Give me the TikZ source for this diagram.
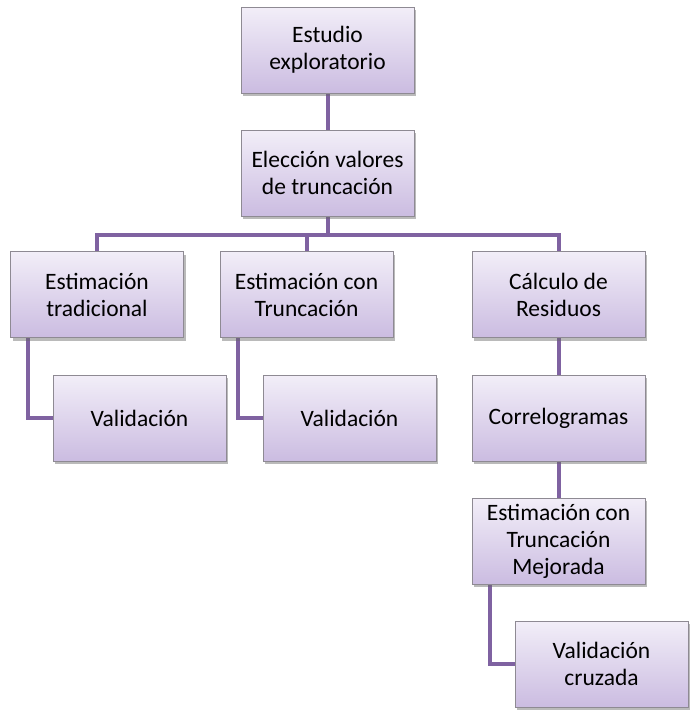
\documentclass[tikz,border=0pt]{standalone}
\usepackage{fontspec}
\setmainfont{Carlito}
\usetikzlibrary{shadows,backgrounds}
\definecolor{linec}{HTML}{7F62A1}
\definecolor{topc}{HTML}{F2EEF8}
\definecolor{botc}{HTML}{CBBCE1}
\definecolor{edgec}{HTML}{8E8A93}
\tikzset{
  box/.style={rectangle, draw=edgec, line width=0.8pt, top color=topc, bottom color=botc,
    minimum width=173pt, minimum height=86pt, align=center,
    inner sep=0pt, font=\fontsize{23.5}{27}\selectfont,
    drop shadow={shadow xshift=2pt, shadow yshift=-3pt, opacity=0.45, fill=black!60}},
  conn/.style={draw=linec, line width=4pt}
}
\begin{document}
\begin{tikzpicture}[x=1pt,y=-1pt]
\useasboundingbox (0,0) rectangle (695,720);
\node[box] (e1) at (327.5,50) {Estudio\\exploratorio};
\node[box] (e2) at (327.5,173) {Elección valores\\de truncación};
\node[box] (t1) at (97,294.5) {Estimación\\tradicional};
\node[box] (t2) at (306.5,294.5) {Estimación con\\Truncación};
\node[box] (t3) at (558.5,294.5) {Cálculo de\\Residuos};
\node[box] (v1) at (139.5,418) {Validación};
\node[box] (v2) at (349.5,418) {Validación};
\node[box] (c) at (558.5,418) {Correlogramas};
\node[box] (m) at (558.5,541) {Estimación con\\Truncación\\Mejorada};
\node[box] (vc) at (601.5,664) {Validación\\cruzada};
\coordinate (bar) at (327.5,235);
\begin{scope}[on background layer]
\draw[conn] (e1.south) -- (e2.north);
\draw[conn] (e2.south) -- (bar);
\draw[conn,line join=miter] (t1.north) |- (bar) -| (t3.north);
\draw[conn] (bar -| t2.north) -- (t2.north);
\draw[conn,line join=miter] ([xshift=-69pt]t1.south) |- (v1.west);
\draw[conn,line join=miter] ([xshift=-69pt]t2.south) |- (v2.west);
\draw[conn] (t3.south) -- (c.north);
\draw[conn] (c.south) -- (m.north);
\draw[conn,line join=miter] ([xshift=-69pt]m.south) |- (vc.west);
\end{scope}
\end{tikzpicture}
\end{document}
